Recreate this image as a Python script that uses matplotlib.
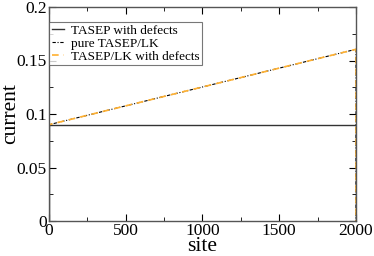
import matplotlib
matplotlib.use("Agg")
import matplotlib.pyplot as plt
from matplotlib.ticker import MultipleLocator

sites = [0, 0, 2000, 2000]
tasep_defects = [0, 0.09, 0.09, 0]
pure_tasep_lk = [0, 0.09, 0.1605, 0]
tasep_lk_defects = [0, 0.09, 0.1605, 0]

plt.rcParams['font.family'] = ['Liberation Serif', 'DejaVu Serif']

fig = plt.figure(figsize=(3.74, 2.56), dpi=100)
ax = fig.add_axes([49/374, 1-221/256, (356-49)/374, (221-7)/256])

ax.plot(sites, tasep_defects, color='#333333', lw=1.0, label='TASEP with defects')
ax.plot(sites, pure_tasep_lk, color='black', lw=0.8, ls=(0, (3, 1.5, 1, 1.5)), label='pure TASEP/LK')
ax.plot(sites, tasep_lk_defects, color='#FFB030', lw=1.2, ls=(0, (4, 3)), label='TASEP/LK with defects')

ax.set_xlim(0, 2000)
ax.set_ylim(0, 0.2)
ax.xaxis.set_major_locator(MultipleLocator(500))
ax.xaxis.set_minor_locator(MultipleLocator(250))
ax.yaxis.set_minor_locator(MultipleLocator(0.025))
ax.set_yticks([0, 0.05, 0.1, 0.15, 0.2])
ax.set_yticklabels(['0', '0.05', '0.1', '0.15', '0.2'])
ax.tick_params(which='both', direction='in', top=True, right=True, labelsize=12.5, pad=1.5)
ax.tick_params(which='major', length=5)
ax.tick_params(which='minor', length=3)
for s in ax.spines.values():
    s.set_color('#555555')
    s.set_linewidth(1.0)

fig.text(202.5/374, 0.0, 'site', fontsize=15.5, ha='center', va='bottom')
fig.text(1/374, 1-114/256, 'current', fontsize=15.5, rotation=90, ha='left', va='center')

leg = ax.legend(loc='upper left', bbox_to_anchor=(0.0, 0.93), fontsize=9.5, frameon=True, fancybox=False,
                edgecolor='#555555', borderpad=0.2, handlelength=0.9, handletextpad=0.55, labelspacing=0.05,
                borderaxespad=0)
leg.get_frame().set_linewidth(0.8)

fig.savefig('out.png', dpi=100)
